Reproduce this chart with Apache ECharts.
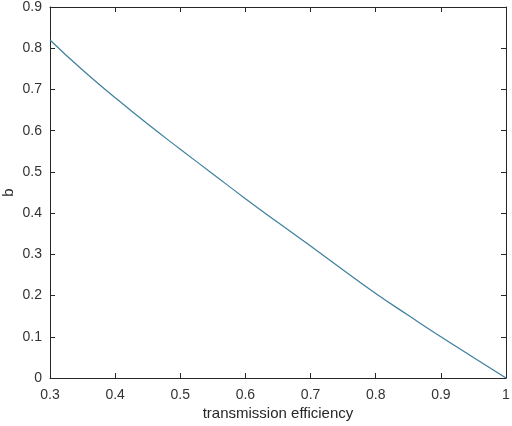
<!DOCTYPE html>
<html>
<head>
<meta charset="utf-8">
<script src="https://cdn.jsdelivr.net/npm/echarts@6/dist/echarts.min.js"></script>
<style>
  html, body { margin: 0; padding: 0; background: #fff; }
  #chart { width: 512px; height: 426px; }
</style>
</head>
<body>
<div id="chart"></div>
<script>
// transmission efficiency vs b
const efficiency = [0.3, 0.35, 0.4, 0.45, 0.5, 0.55, 0.6, 0.65, 0.7, 0.75, 0.8, 0.85, 0.9, 0.95, 1.0];
const bValues = [0.82, 0.747, 0.68, 0.616, 0.555, 0.495, 0.435, 0.377, 0.32, 0.262, 0.205, 0.152, 0.1, 0.05, 0];

const chart = echarts.init(document.getElementById("chart"));
const font = "'Liberation Sans', Arial, sans-serif";
const tickText = { color: "#333", fontSize: 14, fontFamily: font };
const nameText = { color: "#262626", fontSize: 15, fontFamily: font };
const axisLine = { show: true, onZero: false, lineStyle: { color: "#262626", width: 1 } };
const axisTick = { show: true, inside: true, length: 5, lineStyle: { color: "#262626" } };

const option = {
  animation: false,
  grid: { left: 50, right: 6, top: 7, bottom: 48, outerBoundsMode: "none" },
  xAxis: [
    {
      type: "value",
      min: 0.3,
      max: 1,
      interval: 0.1,
      name: "transmission efficiency",
      nameLocation: "middle",
      nameGap: 28,
      nameMoveOverlap: false,
      nameTextStyle: nameText,
      axisLine: axisLine,
      axisTick: axisTick,
      axisLabel: Object.assign({ margin: 10, formatter: (v) => +v.toFixed(1) }, tickText),
      splitLine: { show: false },
    },
    {
      type: "value",
      position: "top",
      min: 0.3,
      max: 1,
      interval: 0.1,
      axisLine: axisLine,
      axisTick: axisTick,
      axisLabel: { show: false },
      splitLine: { show: false },
    },
  ],
  yAxis: [
    {
      type: "value",
      min: 0,
      max: 0.9,
      interval: 0.1,
      name: "b",
      nameLocation: "middle",
      nameGap: 34,
      nameMoveOverlap: false,
      nameTextStyle: nameText,
      axisLine: axisLine,
      axisTick: axisTick,
      axisLabel: Object.assign({ margin: 8, formatter: (v) => +v.toFixed(1) }, tickText),
      splitLine: { show: false },
    },
    {
      type: "value",
      position: "right",
      min: 0,
      max: 0.9,
      interval: 0.1,
      axisLine: axisLine,
      axisTick: axisTick,
      axisLabel: { show: false },
      splitLine: { show: false },
    },
  ],
  series: [
    {
      type: "line",
      data: efficiency.map((x, i) => [x, bValues[i]]),
      smooth: true,
      showSymbol: false,
      lineStyle: { color: "#3d7f9d", width: 1.2 },
    },
  ],
};

chart.setOption(option);
</script>
</body>
</html>
